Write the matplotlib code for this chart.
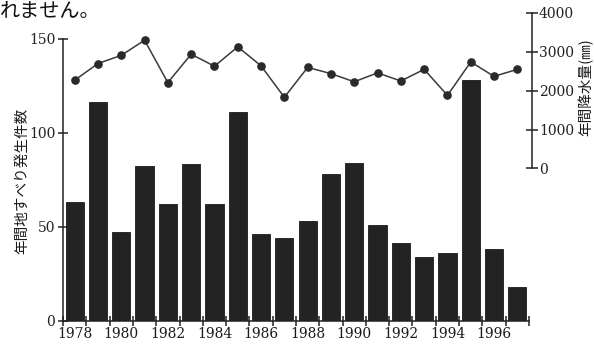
import matplotlib
matplotlib.use("Agg")
import matplotlib.pyplot as plt
import numpy as np

# Annual landslide counts and annual precipitation, 1978-1997
years = list(range(1978, 1998))
landslides = [63, 116, 47, 82, 62, 83, 62, 111, 46, 44,
              53, 78, 84, 51, 41, 34, 36, 128, 38, 18]
precip_mm = [2270, 2700, 2910, 3300, 2210, 2940, 2630, 3130, 2640, 1830,
             2600, 2440, 2230, 2460, 2250, 2550, 1880, 2740, 2370, 2550]
year_labels = [str(y) for y in range(1978, 1998, 2)]
left_ticks = [0, 50, 100, 150]
right_ticks = [0, 1000, 2000, 3000, 4000]

jp = ["Noto Sans CJK JP", "DejaVu Sans"]
num_font = "DejaVu Serif"

W, H = 594, 349
fig = plt.figure(figsize=(W / 100, H / 100), dpi=100)

# axes box in pixel terms
x0, x1 = 63, 532
y_bot, y_top = 320.5, 13
ax = fig.add_axes([x0 / W, 1 - y_bot / H, (x1 - x0) / W, (y_bot - y_top) / H])

n = len(years)
xlim_r = n * (x1 - x0) / (529 - x0)
ax.set_xlim(0, xlim_r)
px_per_unit = (y_bot - 38.5) / 150.0
ax.set_ylim(0, (y_bot - y_top) / px_per_unit)

centers = np.arange(n) + 0.5
ax.bar(centers, landslides, width=0.78, color="#232323", edgecolor="#1a1a1a",
       linewidth=0.6, zorder=2)

for s in ["top", "right"]:
    ax.spines[s].set_visible(False)
ax.spines["left"].set_bounds(0, 150)
ax.spines["bottom"].set_bounds(0, n)
for s in ["left", "bottom"]:
    ax.spines[s].set_linewidth(1.1)
    ax.spines[s].set_color("#222222")

ax.set_yticks(left_ticks)
ax.set_yticklabels([str(t) for t in left_ticks], fontfamily=num_font, fontsize=10)
ax.tick_params(axis="y", direction="inout", length=7, width=1.1, pad=2, colors="#222222")

ax.set_xticks(np.arange(n + 1))
ax.set_xticklabels([])
ax.tick_params(axis="x", direction="inout", length=7, width=1.1, colors="#222222")
for i, lab in enumerate(year_labels):
    ax.text(2 * i + 0.5, -3.5, lab, ha="center", va="top", fontfamily=num_font,
            fontsize=10, color="#1a1a1a")

ax.set_ylabel("年間地すべり発生件数", fontfamily=jp, fontsize=10.5, color="#1a1a1a")
ax.yaxis.set_label_coords(-0.072, (320.5 - 181) / (y_bot - y_top))

# precipitation on a secondary axis
ax2 = ax.twinx()
ax2.set_position(ax.get_position())
r_px = (168.3 - 12.7) / 4000.0
ax2.set_ylim(-(y_bot - 168.3) / r_px, (168.3 - y_top) / r_px)
ax2.plot(centers, precip_mm, color="#3a3a3a", linewidth=1.1, marker="o",
         markersize=5.2, markerfacecolor="#2a2a2a", markeredgecolor="#2a2a2a", zorder=3)
for s in ["top", "left", "bottom"]:
    ax2.spines[s].set_visible(False)
ax2.spines["right"].set_bounds(0, 4000)
ax2.spines["right"].set_linewidth(1.1)
ax2.spines["right"].set_color("#222222")
ax2.set_yticks(right_ticks)
ax2.set_yticklabels([str(t) for t in right_ticks], fontfamily=num_font, fontsize=10)
ax2.tick_params(axis="y", direction="inout", length=8, width=1.1, pad=1, colors="#222222")
ax2.set_ylabel("年間降水量(㎜)", fontfamily=jp, fontsize=10.5, color="#1a1a1a",
               rotation=90)
ax2.yaxis.set_label_coords(1.098, (y_bot - 87) / (y_bot - y_top))

# fragment of the surrounding page text
fig.text(0.0, 1 - 1 / H, "れません。", fontfamily=jp, fontsize=14.5, ha="left",
         va="top", color="#111111")

fig.savefig("out.png", dpi=100)
